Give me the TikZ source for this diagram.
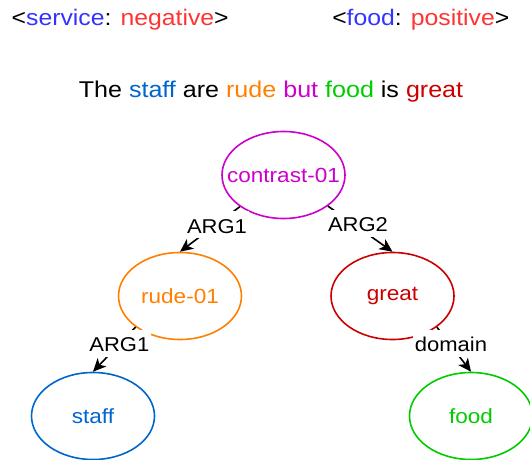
\documentclass[tikz,border=0pt]{standalone}
\usepackage{fontspec}
\setmainfont{Liberation Sans}[FakeStretch=1.1]
\usetikzlibrary{shapes.geometric,arrows.meta}

\definecolor{aspectblue}{RGB}{51,51,255}
\definecolor{polarred}{RGB}{255,51,51}
\definecolor{staffblue}{RGB}{0,102,204}
\definecolor{rudeorange}{RGB}{255,128,0}
\definecolor{butpurple}{RGB}{204,0,204}
\definecolor{foodgreen}{RGB}{0,204,0}
\definecolor{greatred}{RGB}{204,0,0}

% concept text is boxed at zero width so the ellipse keeps its fixed size
\newcommand{\conceptname}[1]{\makebox[0pt]{#1}}

\tikzset{
  concept/.style={ellipse, draw, line width=1.6pt, minimum width=123pt,
    minimum height=87pt, inner sep=0pt,
    font=\fontsize{20.5}{24}\selectfont},
  relation/.style={line width=1.6pt, draw=black,
    -{Stealth[length=13pt,width=12pt,inset=3.5pt]}},
  rolelabel/.style={fill=white, anchor=base, inner xsep=2pt, inner ysep=3pt,
    text height=19pt, text depth=2pt,
    font=\fontsize{20}{24}\selectfont},
  headline/.style={inner sep=0pt, font=\fontsize{22.5}{27}\selectfont}
}

\begin{document}
\begin{tikzpicture}[x=1pt, y=-1pt]
  \useasboundingbox (0,0) rectangle (530,460);

  % aspect / polarity pairs
  \node[headline, anchor=base west] (aspL) at (11.5,26)
    {<\textcolor{aspectblue}{service}: \textcolor{polarred}{negative}>};
  \node[headline, anchor=base east] (aspR) at (509.5,26)
    {<\textcolor{aspectblue}{food}: \textcolor{polarred}{positive}>};

  % the sentence
  \node[headline, anchor=base, font=\fontsize{22.8}{27}\selectfont] (sent) at (271,97.3)
    {The \textcolor{staffblue}{staff} are \textcolor{rudeorange}{rude}
     \textcolor{butpurple}{but} \textcolor{foodgreen}{food} is
     \textcolor{greatred}{great}};

  % AMR graph
  \node[concept, draw=butpurple, text=butpurple] (c) at (283.5,175) {\conceptname{contrast-01}};
  \node[concept, draw=rudeorange, text=rudeorange] (r) at (180,296) {\conceptname{rude-01}};
  \node[concept, draw=greatred, text=greatred] (g) at (392.5,296) {\conceptname{great}};
  \node[concept, draw=staffblue, text=staffblue] (s) at (93,416) {\conceptname{staff}};
  \node[concept, draw=foodgreen, text=foodgreen] (f) at (471,416) {\conceptname{food}};

  \draw[relation] (c.216) -- (r.north);
  \draw[relation] (c.-35) -- (g.north);
  \draw[relation] (r.215) -- (s.north);
  \draw[relation] (g.-35) -- (f.north);

  \node[rolelabel] (l1) at (217,233.3) {ARG1};
  \node[rolelabel] (l2) at (358,231.7) {ARG2};
  \node[rolelabel] (l3) at (119.3,351.7) {ARG1};
  \node[rolelabel] (l4) at (451,351.7) {domain};
\end{tikzpicture}
\end{document}
